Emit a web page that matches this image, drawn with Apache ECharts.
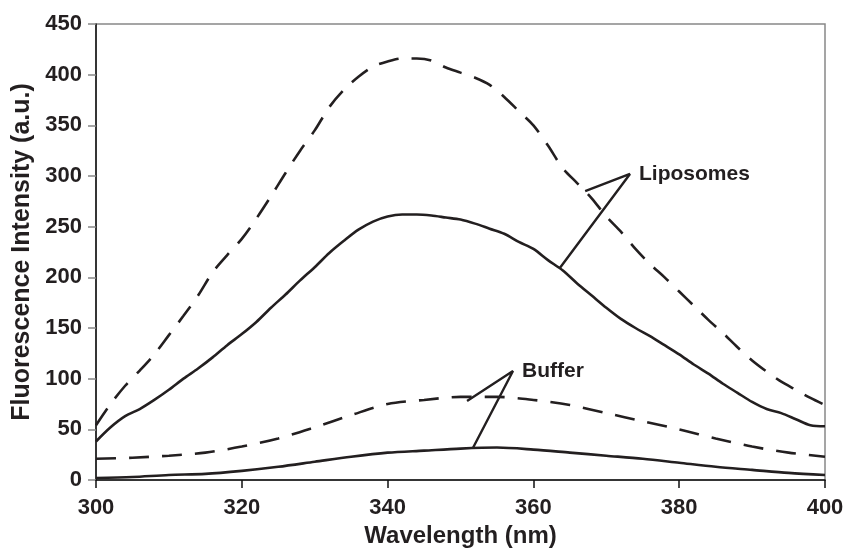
<!DOCTYPE html>
<html>
<head>
<meta charset="utf-8">
<script src="https://cdn.jsdelivr.net/npm/echarts@6/dist/echarts.min.js"></script>
<style>html,body{margin:0;padding:0;background:#fff;}#c{width:848px;height:551px;}</style>
</head>
<body>
<div id="c"></div>
<script>
// Wavelength grids (nm)
var wlLipo = [300,302,304,306,308,310,312,314,316,318,320,322,324,326,328,330,332,334,336,338,340,342,344,346,348,350,352,354,356,358,360,362,364,366,368,370,372,374,376,378,380,382,384,386,388,390,392,394,396,398,400];
var wlBuf = [300,305,310,315,320,325,330,335,340,345,350,355,360,365,370,375,380,385,390,395,400];

// Liposomes, dashed curve
var lipoDashed = [54,75,93,108,124,143,162,182,205,222,238,258,280,303,325,345,368,385,398,408,413,416,416,414,407,402,397,390,378,364,350,330,308,293,278,260,245,228,213,200,186,172,158,145,131,118,107,97,89,81,74];
// Liposomes, solid curve
var lipoSolid = [38,52,63,70,79,89,100,110,121,133,144,156,170,183,197,210,224,236,247,255,260,262,262,261,259,257,253,248,243,235,228,217,207,194,182,170,159,150,142,133,124,114,105,95,86,77,70,66,60,54,53];
// Buffer, dashed curve
var bufDashed = [21,22,24,27,33,41,52,64,75,79,82,82,79,74,66,58,50,41,33,27,23];
// Buffer, solid curve
var bufSolid = [2,3,5,6,9,13,18,23,27,29,31,32,30,27,24,21,17,13,10,7,5];

// Axis ticks
var xTicks = [300,320,340,360,380,400];
var yTicks = [0,50,100,150,200,250,300,350,400,450];

// Annotation pointers (data coordinates)
var lipoPointer = [[367.1,285],[373.25,302],[363.6,209]];
var bufPointer = [[350.9,78],[357.2,107.6],[351.7,31.6]];
var labels = [{name:'Liposomes', value:[373.25,302]}, {name:'Buffer', value:[357.2,107.6]}];

function pairs(xs, ys){ return xs.map(function(x,i){ return [x, ys[i]]; }); }

var ink = '#231f20';
var font = 'Liberation Sans, Arial, Helvetica, sans-serif';
var chart = echarts.init(document.getElementById('c'));
chart.setOption({
  animation: false,
  backgroundColor: '#fff',
  grid: {left: 96, right: 23, top: 24, bottom: 71, containLabel: false, outerBoundsMode: 'none',
         show: true, borderColor: '#888', borderWidth: 1.5},
  xAxis: {
    type: 'value', min: xTicks[0], max: xTicks[xTicks.length-1], interval: 20,
    name: 'Wavelength (nm)', nameLocation: 'middle', nameGap: 42,
    nameTextStyle: {fontFamily: font, fontWeight: 'bold', fontSize: 24, color: ink},
    axisLine: {show: true, lineStyle: {color: '#111', width: 1.5}},
    axisTick: {show: true, length: 8, lineStyle: {color: '#111', width: 1.5}},
    axisLabel: {margin: 17, fontFamily: font, fontWeight: 'bold', fontSize: 22, color: ink},
    splitLine: {show: false}
  },
  yAxis: {
    type: 'value', min: yTicks[0], max: yTicks[yTicks.length-1], interval: 50,
    name: 'Fluorescence Intensity (a.u.)', nameLocation: 'middle', nameGap: 60, nameRotate: 90,
    nameTextStyle: {fontFamily: font, fontWeight: 'bold', fontSize: 25, color: ink},
    axisLine: {show: true, lineStyle: {color: '#111', width: 1.5}},
    axisTick: {show: true, length: 8, lineStyle: {color: '#888', width: 1.5}},
    axisLabel: {margin: 14, fontFamily: font, fontWeight: 'bold', fontSize: 22, color: ink},
    splitLine: {show: false}
  },
  series: [
    {type: 'line', data: pairs(wlLipo, lipoDashed), smooth: 0.3, symbol: 'none',
     lineStyle: {color: ink, width: 2.6, type: [20,13]}},
    {type: 'line', data: pairs(wlLipo, lipoSolid), smooth: 0.3, symbol: 'none',
     lineStyle: {color: ink, width: 2.6, type: 'solid'}},
    {type: 'line', data: pairs(wlBuf, bufDashed), smooth: 0.3, symbol: 'none',
     lineStyle: {color: ink, width: 2.6, type: [20,13]}},
    {type: 'line', data: pairs(wlBuf, bufSolid), smooth: 0.3, symbol: 'none',
     lineStyle: {color: ink, width: 2.6, type: 'solid'}},
    {type: 'line', data: lipoPointer, symbol: 'none', lineStyle: {color: ink, width: 2.4}},
    {type: 'line', data: bufPointer, symbol: 'none', lineStyle: {color: ink, width: 2.4}},
    {type: 'scatter', data: labels, symbolSize: 0, silent: true, itemStyle: {opacity: 1},
     label: {show: true, position: 'right', distance: 9, formatter: '{b}', opacity: 1,
             fontFamily: font, fontWeight: 'bold', fontSize: 21, color: ink}}
  ]
});
</script>
</body>
</html>
